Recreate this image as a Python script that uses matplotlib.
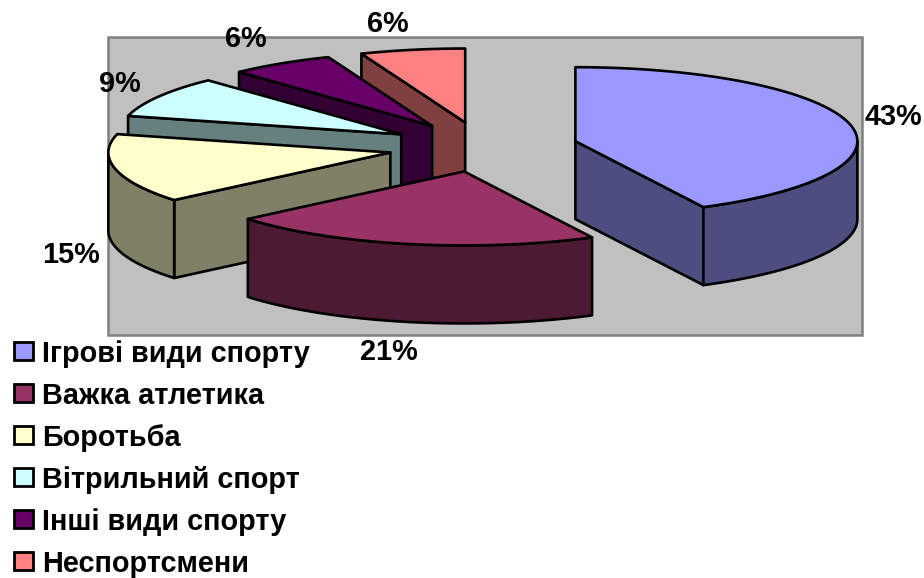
import numpy as np
import matplotlib
matplotlib.use('Agg')
import matplotlib.pyplot as plt
from matplotlib.patches import Polygon, Rectangle

categories = ['Ігрові види спорту', 'Важка атлетика', 'Боротьба',
              'Вітрильний спорт', 'Інші види спорту', 'Неспортсмени']
# shares as measured on the drawn slices, the labels are the rounded ones
values = [42.5, 21.4, 15.1, 9, 6, 6]
labels = ['43%', '21%', '15%', '9%', '6%', '6%']
top_colors = ['#9999FF', '#993366', '#FFFFCC', '#CCFFFF', '#660066', '#FF8080']
side_colors = ['#4D4D80', '#4D1A33', '#808066', '#668080', '#330033', '#804040']
label_pos = [(893, 117), (389, 352), (71, 255), (120, 84), (246, 39), (388, 24)]
legend_y = [354, 396, 438, 480, 522, 564]

# pie geometry in pixels
cx, cy = 483, 147
rx, ry = 282, 74
explode = 95
depth = 78

plt.rcParams['font.family'] = ['Liberation Sans', 'DejaVu Sans']
plt.rcParams['font.weight'] = 'bold'

fig = plt.figure(figsize=(9.24, 5.78), dpi=100)
ax = fig.add_axes([0, 0, 1, 1])
ax.set_xlim(0, 924)
ax.set_ylim(578, 0)
ax.axis('off')

ax.add_patch(Rectangle((108, 37), 754, 298, fc='#C0C0C0', ec='#808080', lw=1.8, zorder=1))


def point(x0, y0, ang):
    # angle clockwise from 12 o'clock, in degrees
    a = np.radians(ang)
    return x0 + rx * np.sin(a), y0 - ry * np.cos(a)


def arc(x0, y0, a1, a2):
    angs = np.linspace(a1, a2, 80)
    return np.column_stack(point(x0, y0, angs))


def face(pts, color, z):
    ax.add_patch(Polygon(pts, closed=True, fc=color, ec='black', lw=1.9, joinstyle='round', zorder=z))


edges = np.concatenate([[0], np.cumsum(values)]) * 360.0 / sum(values)

# back slices first, the front one last
order = [5, 4, 3, 2, 0, 1]
for n, i in enumerate(order):
    a1, a2 = edges[i], edges[i + 1]
    mid = np.radians((a1 + a2) / 2)
    x0 = cx + explode * np.sin(mid)
    y0 = cy - explode * ry / rx * np.cos(mid)
    z = 2 + n
    down = np.array([0, depth])
    apex = np.array([x0, y0])
    # cut faces that look towards the viewer
    for ang, normal in ((a1, a1 - 90), (a2, a2 + 90)):
        if np.cos(np.radians(normal)) < -1e-6:
            p = np.array(point(x0, y0, ang))
            face([apex, p, p + down, apex + down], side_colors[i], z)
    # outer wall
    w1, w2 = max(a1, 90), min(a2, 270)
    if w1 < w2:
        rim = arc(x0, y0, w1, w2)
        face(np.vstack([rim, (rim + down)[::-1]]), side_colors[i], z)
    # top
    face(np.vstack([apex, arc(x0, y0, a1, a2)]), top_colors[i], z)

for txt, (lx, ly) in zip(labels, label_pos):
    ax.text(lx, ly, txt, fontsize=20.8, ha='center', va='center', color='black', zorder=20)

for name, color, ly in zip(categories, top_colors, legend_y):
    ax.add_patch(Rectangle((14, ly - 12), 19, 18, fc=color, ec='black', lw=2, zorder=20))
    ax.text(42, ly, name, fontsize=20.8, ha='left', va='center', color='black', zorder=20)

fig.savefig('out.png', dpi=100, facecolor='white')
